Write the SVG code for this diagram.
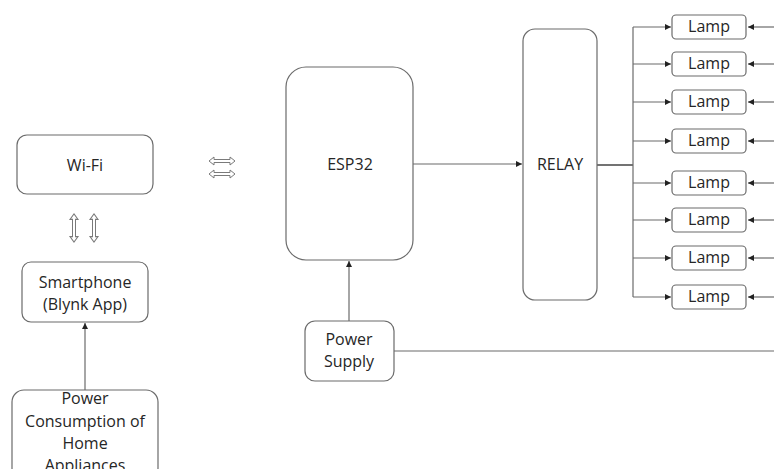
<svg xmlns="http://www.w3.org/2000/svg" width="774" height="469" viewBox="0 0 774 469">
<style>
.box{fill:#fff;stroke:#6b6b6b;stroke-width:1.2}
.t{font-family:"Open Sans","Liberation Sans",sans-serif;font-size:16px;fill:#262626;text-anchor:middle}
.c{fill:none;stroke:#6b6b6b;stroke-width:1.2}
.da{fill:#fff;stroke:#7a7a7a;stroke-width:1}
</style>
<defs>
<marker id="ah" viewBox="0 0 10 10" refX="10" refY="5" markerWidth="6" markerHeight="6" markerUnits="userSpaceOnUse" orient="auto">
<path d="M0,0 L10,5 L0,10 Z" fill="#222"/>
</marker>
<path id="hda" d="M-13,0 L-8,-4 L-8,-1.5 L8,-1.5 L8,-4 L13,0 L8,4 L8,1.5 L-8,1.5 L-8,4 Z"/>
</defs>
<rect width="774" height="469" fill="#fff"/>
<g id="connectors">
<line class="c" x1="85" y1="390" x2="85" y2="323" marker-end="url(#ah)"/>
<line class="c" x1="349" y1="321" x2="349" y2="261" marker-end="url(#ah)"/>
<line class="c" x1="413" y1="164" x2="522" y2="164" marker-end="url(#ah)"/>
<line class="c" x1="597" y1="165" x2="633" y2="165" style="stroke:#444;stroke-width:1.6"/>
<line class="c" x1="633" y1="27" x2="633" y2="297"/>
<line class="c" x1="394" y1="351" x2="774" y2="351"/>
<g id="lamp-in">
<line class="c" x1="633" y1="27" x2="671" y2="27" marker-end="url(#ah)"/>
<line class="c" x1="633" y1="64" x2="671" y2="64" marker-end="url(#ah)"/>
<line class="c" x1="633" y1="102" x2="671" y2="102" marker-end="url(#ah)"/>
<line class="c" x1="633" y1="141" x2="671" y2="141" marker-end="url(#ah)"/>
<line class="c" x1="633" y1="183" x2="671" y2="183" marker-end="url(#ah)"/>
<line class="c" x1="633" y1="220" x2="671" y2="220" marker-end="url(#ah)"/>
<line class="c" x1="633" y1="258" x2="671" y2="258" marker-end="url(#ah)"/>
<line class="c" x1="633" y1="297" x2="671" y2="297" marker-end="url(#ah)"/>
</g>
<g id="lamp-ret">
<line class="c" x1="774" y1="27" x2="748" y2="27" marker-end="url(#ah)"/>
<line class="c" x1="774" y1="64" x2="748" y2="64" marker-end="url(#ah)"/>
<line class="c" x1="774" y1="102" x2="748" y2="102" marker-end="url(#ah)"/>
<line class="c" x1="774" y1="141" x2="748" y2="141" marker-end="url(#ah)"/>
<line class="c" x1="774" y1="183" x2="748" y2="183" marker-end="url(#ah)"/>
<line class="c" x1="774" y1="220" x2="748" y2="220" marker-end="url(#ah)"/>
<line class="c" x1="774" y1="258" x2="748" y2="258" marker-end="url(#ah)"/>
<line class="c" x1="774" y1="297" x2="748" y2="297" marker-end="url(#ah)"/>
</g>
<g id="double-arrows">
<use href="#hda" class="da" transform="translate(222,161)"/>
<use href="#hda" class="da" transform="translate(222,174)"/>
<use href="#hda" class="da" transform="translate(74,228) rotate(90) scale(1.08,1)"/>
<use href="#hda" class="da" transform="translate(94,228) rotate(90) scale(1.08,1)"/>
</g>
</g>
<g id="wifi"><rect class="box" x="17" y="135" width="136" height="59" rx="10"/><text class="t" x="85" y="171">Wi-Fi</text></g>
<g id="smartphone"><rect class="box" x="22" y="262" width="126" height="60" rx="9"/><text class="t" x="85" y="288">Smartphone</text><text class="t" x="85" y="310">(Blynk App)</text></g>
<g id="power-consumption"><rect class="box" x="12" y="390" width="146" height="90" rx="12"/><text class="t" x="85" y="404">Power</text><text class="t" x="85" y="427">Consumption of</text><text class="t" x="85" y="449">Home</text><text class="t" x="85" y="471">Appliances</text></g>
<g id="esp32"><rect class="box" x="286" y="67" width="127" height="193" rx="20"/><text class="t" x="350" y="170">ESP32</text></g>
<g id="relay"><rect class="box" x="523" y="29" width="74" height="271" rx="12"/><text class="t" x="560" y="170">RELAY</text></g>
<g id="power-supply"><rect class="box" x="305" y="321" width="89" height="60" rx="10"/><text class="t" x="349" y="345">Power</text><text class="t" x="349" y="367">Supply</text></g>
<g id="lamp1"><rect class="box" x="672" y="15" width="74" height="24" rx="4"/><text class="t" x="709" y="32">Lamp</text></g>
<g id="lamp2"><rect class="box" x="672" y="52" width="74" height="24" rx="4"/><text class="t" x="709" y="69">Lamp</text></g>
<g id="lamp3"><rect class="box" x="672" y="90" width="74" height="24" rx="4"/><text class="t" x="709" y="107">Lamp</text></g>
<g id="lamp4"><rect class="box" x="672" y="129" width="74" height="24" rx="4"/><text class="t" x="709" y="146">Lamp</text></g>
<g id="lamp5"><rect class="box" x="672" y="171" width="74" height="24" rx="4"/><text class="t" x="709" y="188">Lamp</text></g>
<g id="lamp6"><rect class="box" x="672" y="208" width="74" height="24" rx="4"/><text class="t" x="709" y="225">Lamp</text></g>
<g id="lamp7"><rect class="box" x="672" y="246" width="74" height="24" rx="4"/><text class="t" x="709" y="263">Lamp</text></g>
<g id="lamp8"><rect class="box" x="672" y="285" width="74" height="24" rx="4"/><text class="t" x="709" y="302">Lamp</text></g>
</svg>
